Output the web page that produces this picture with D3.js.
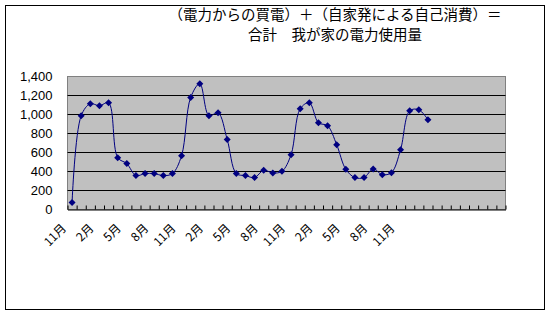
<!DOCTYPE html>
<html>
<head>
<meta charset="utf-8">
<script src="https://cdn.jsdelivr.net/npm/d3@7"></script>
<style>
  body { margin: 0; background: #fff; }
  svg { display: block; }
  .num { font-family: "Liberation Sans Narrow", "Liberation Sans", sans-serif; font-size: 13px; }
  .ttl { font-family: "Noto Sans CJK JP", sans-serif; font-size: 14.5px; }
  .cat { font-family: "Noto Sans CJK JP", sans-serif; font-size: 12px; }
</style>
</head>
<body>
<div id="chart"></div>
<script>
// months along the axis (blank after the labelled range ends)
const months = ['11月', '12月', '1月', '2月', '3月', '4月', '5月', '6月', '7月', '8月', '9月', '10月',
    '11月', '12月', '1月', '2月', '3月', '4月', '5月', '6月', '7月', '8月', '9月', '10月',
    '11月', '12月', '1月', '2月', '3月', '4月', '5月', '6月', '7月', '8月', '9月', '10月',
    '11月', '12月', '1月', '', '', '', '', '', '', '', '', ''];

// total usage per month
const usage = [73, 987, 1113, 1092, 1123, 546, 483, 357, 378, 378, 357, 378,
    567, 1180, 1323, 987, 1018, 738, 378, 357, 336, 413, 385, 402,
    577, 1060, 1123, 913, 882, 682, 423, 336, 336, 427, 367, 388,
    630, 1039, 1050, 945];

const y_ticks = [0, 200, 400, 600, 800, 1000, 1200, 1400];
const title_lines = ['（電力からの買電）＋（自家発による自己消費）＝', '合計　我が家の電力使用量'];

const chart_width = 550;
const chart_height = 314;

const svg = d3.select('#chart')
    .append('svg')
    .attr('width', chart_width)
    .attr('height', chart_height);

// outer frame
svg.append('rect')
    .attr('x', 5.5).attr('y', 5.5)
    .attr('width', 539).attr('height', 304)
    .attr('fill', '#fff')
    .attr('stroke', '#000');

// title
svg.append('g')
    .selectAll('text')
    .data(title_lines)
    .enter()
    .append('text')
    .attr('class', 'ttl')
    .attr('x', 335)
    .attr('y', (d, i) => 20 + i * 20)
    .attr('text-anchor', 'middle')
    .text(d => d);

// scales
const x_scale = d3.scaleLinear()
    .domain([0, months.length])
    .range([67.5, 505.5]);

const y_scale = d3.scaleLinear()
    .domain([0, 1400])
    .range([209.5, 76.5]);

// plot area
svg.append('rect')
    .attr('x', x_scale(0)).attr('y', y_scale(1400))
    .attr('width', x_scale(months.length) - x_scale(0))
    .attr('height', y_scale(0) - y_scale(1400))
    .attr('fill', '#c0c0c0')
    .attr('stroke', '#808080');

// grid lines
svg.append('g')
    .selectAll('line')
    .data(y_ticks.filter(d => d > 0 && d < 1400))
    .enter()
    .append('line')
    .attr('x1', x_scale(0))
    .attr('x2', x_scale(months.length))
    .attr('y1', d => y_scale(d))
    .attr('y2', d => y_scale(d))
    .attr('stroke', '#000');

// y axis labels
const y_axis = d3.axisLeft(y_scale)
    .tickValues(y_ticks)
    .tickSize(0)
    .tickPadding(15)
    .tickFormat(d3.format(','));
const gy = svg.append('g')
    .attr('transform', `translate(${x_scale(0)}, 0)`)
    .call(y_axis);
gy.select('.domain').remove();
gy.selectAll('text').attr('class', 'num').attr('fill', '#000').attr('font-size', null).attr('font-family', null);

// x axis with inside ticks at category boundaries
const x_axis = d3.axisBottom(x_scale)
    .tickValues(d3.range(months.length + 1))
    .tickSizeInner(-4)
    .tickSizeOuter(0)
    .tickFormat('');
const gx = svg.append('g')
    .attr('transform', `translate(0, ${y_scale(0)})`)
    .call(x_axis);
gx.selectAll('line').attr('stroke', '#000');
gx.select('.domain').attr('stroke', '#000');

// category labels, every third month
svg.append('g')
    .selectAll('text')
    .data(months.map((m, i) => [m, i]).filter(d => d[1] % 3 === 0 && d[0] !== ''))
    .enter()
    .append('text')
    .attr('class', 'cat')
    .attr('text-anchor', 'end')
    .attr('transform', d => `translate(${x_scale(d[1] + 0.5) - 5}, 229) rotate(-45)`)
    .text(d => d[0]);

// smoothed line
const line = d3.line()
    .x((d, i) => x_scale(i + 0.5))
    .y(d => y_scale(d))
    .curve(d3.curveCatmullRom.alpha(0.5));

svg.append('path')
    .datum(usage)
    .attr('d', line)
    .attr('fill', 'none')
    .attr('stroke', '#000080')
    .attr('stroke-width', 1);

// diamond markers
const r = 3.5;
svg.append('g')
    .selectAll('polygon')
    .data(usage)
    .enter()
    .append('polygon')
    .attr('points', `0,${-r} ${r},0 0,${r} ${-r},0`)
    .attr('transform', (d, i) => `translate(${x_scale(i + 0.5)}, ${y_scale(d)})`)
    .attr('fill', '#000080');
</script>
</body>
</html>
